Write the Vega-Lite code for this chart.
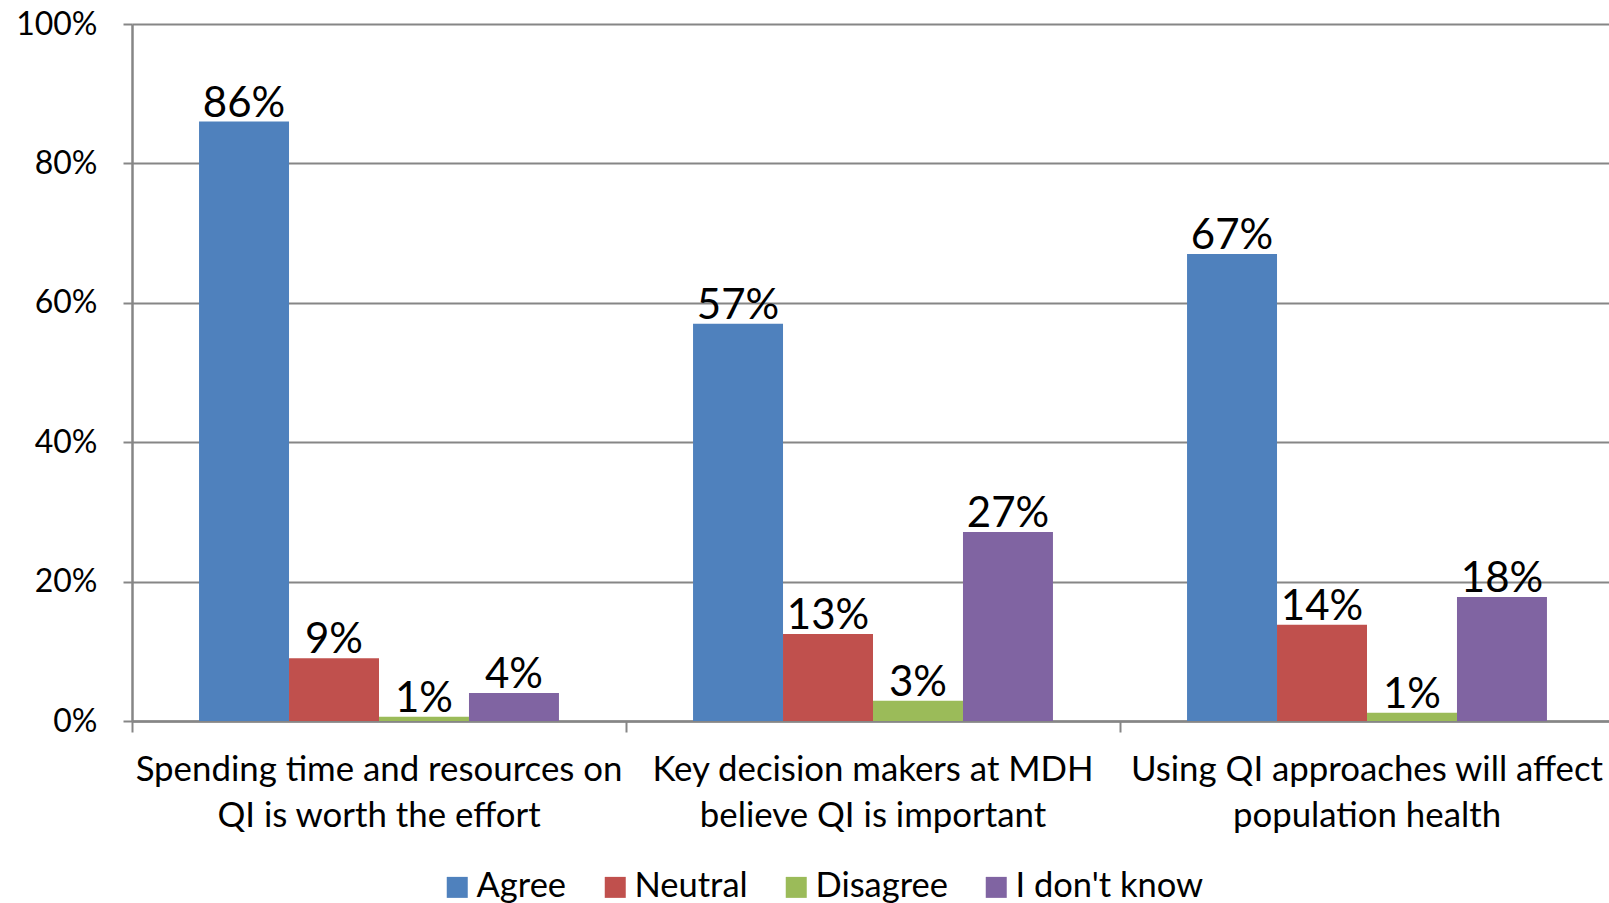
{
  "$schema": "https://vega.github.io/schema/vega-lite/v6.json",
  "width": 1477,
  "height": 697,
  "autosize": "none",
  "padding": {"left": 132, "top": 24, "right": 0, "bottom": 182},
  "background": "white",
  "data": {
    "values": [
      {"question": "Spending time and resources on QI is worth the effort", "response": "Agree", "value": 0.86},
      {"question": "Spending time and resources on QI is worth the effort", "response": "Neutral", "value": 0.09},
      {"question": "Spending time and resources on QI is worth the effort", "response": "Disagree", "value": 0.006},
      {"question": "Spending time and resources on QI is worth the effort", "response": "I don't know", "value": 0.04},
      {"question": "Key decision makers at MDH believe QI is important", "response": "Agree", "value": 0.57},
      {"question": "Key decision makers at MDH believe QI is important", "response": "Neutral", "value": 0.125},
      {"question": "Key decision makers at MDH believe QI is important", "response": "Disagree", "value": 0.029},
      {"question": "Key decision makers at MDH believe QI is important", "response": "I don't know", "value": 0.271},
      {"question": "Using QI approaches will affect population health", "response": "Agree", "value": 0.67},
      {"question": "Using QI approaches will affect population health", "response": "Neutral", "value": 0.138},
      {"question": "Using QI approaches will affect population health", "response": "Disagree", "value": 0.012},
      {"question": "Using QI approaches will affect population health", "response": "I don't know", "value": 0.178}
    ]
  },
  "encoding": {
    "x": {
      "field": "question",
      "type": "nominal",
      "sort": null,
      "title": null,
      "scale": {"paddingInner": 0, "paddingOuter": 0, "range": [0, 1482]},
      "axis": {
        "bandPosition": 0,
        "domainColor": "#868686",
        "domainWidth": 2.5,
        "tickColor": "#868686",
        "tickWidth": 2,
        "tickSize": 11,
        "labelPadding": 21,
        "labelFont": "Lato",
        "labelFontSize": 34.8,
        "labelColor": "black",
        "labelBaseline": "top",
        "labelLineHeight": 46,
        "labelLimit": 0,
        "labelOverlap": false,
        "labelBound": false,
        "labelAngle": 0,
        "labelExpr": "datum.value == 'Spending time and resources on QI is worth the effort' ? ['Spending time and resources on', 'QI is worth the effort'] : datum.value == 'Key decision makers at MDH believe QI is important' ? ['Key decision makers at MDH', 'believe QI is important'] : ['Using QI approaches will affect', 'population health']"
      }
    },
    "xOffset": {
      "field": "response",
      "type": "nominal",
      "sort": ["Agree", "Neutral", "Disagree", "I don't know"],
      "scale": {"paddingInner": 0, "paddingOuter": 0.745}
    },
    "y": {
      "field": "value",
      "type": "quantitative",
      "title": null,
      "scale": {"domain": [0, 1], "nice": false},
      "axis": {
        "values": [0, 0.2, 0.4, 0.6, 0.8, 1],
        "format": ".0%",
        "grid": true,
        "gridColor": "#868686",
        "gridWidth": 2,
        "domainColor": "#868686",
        "domainWidth": 2.5,
        "tickColor": "#868686",
        "tickWidth": 2,
        "tickSize": 9,
        "labelPadding": 26,
        "labelFont": "Lato",
        "labelFontSize": 32,
        "labelColor": "black"
      }
    }
  },
  "layer": [
    {
      "mark": {"type": "bar"},
      "encoding": {
        "color": {
          "field": "response",
          "type": "nominal",
          "sort": ["Agree", "Neutral", "Disagree", "I don't know"],
          "scale": {
            "domain": ["Agree", "Neutral", "Disagree", "I don't know"],
            "range": ["#4F81BD", "#C0504D", "#9BBB59", "#8064A2"]
          },
          "legend": {
            "title": null,
            "orient": "none",
            "direction": "horizontal",
            "legendX": 308,
            "legendY": 846,
            "symbolType": "square",
            "symbolSize": 441,
            "symbolStrokeWidth": 0,
            "symbolOpacity": 1,
            "labelFont": "Lato",
            "labelFontSize": 34.5,
            "labelColor": "black",
            "labelOffset": 2,
            "labelLimit": 0,
            "labelExpr": "length(datum.label) > 9 ? '\u2005' + datum.label : datum.label",
            "columnPadding": 31,
            "padding": 0
          }
        }
      }
    },
    {
      "mark": {"type": "text", "baseline": "alphabetic", "dy": -5, "font": "Lato", "fontSize": 42, "color": "black"},
      "encoding": {
        "text": {"field": "value", "type": "quantitative", "format": ".0%"}
      }
    }
  ],
  "config": {
    "view": {"stroke": null},
    "axis": {"gridDash": []}
  }
}
